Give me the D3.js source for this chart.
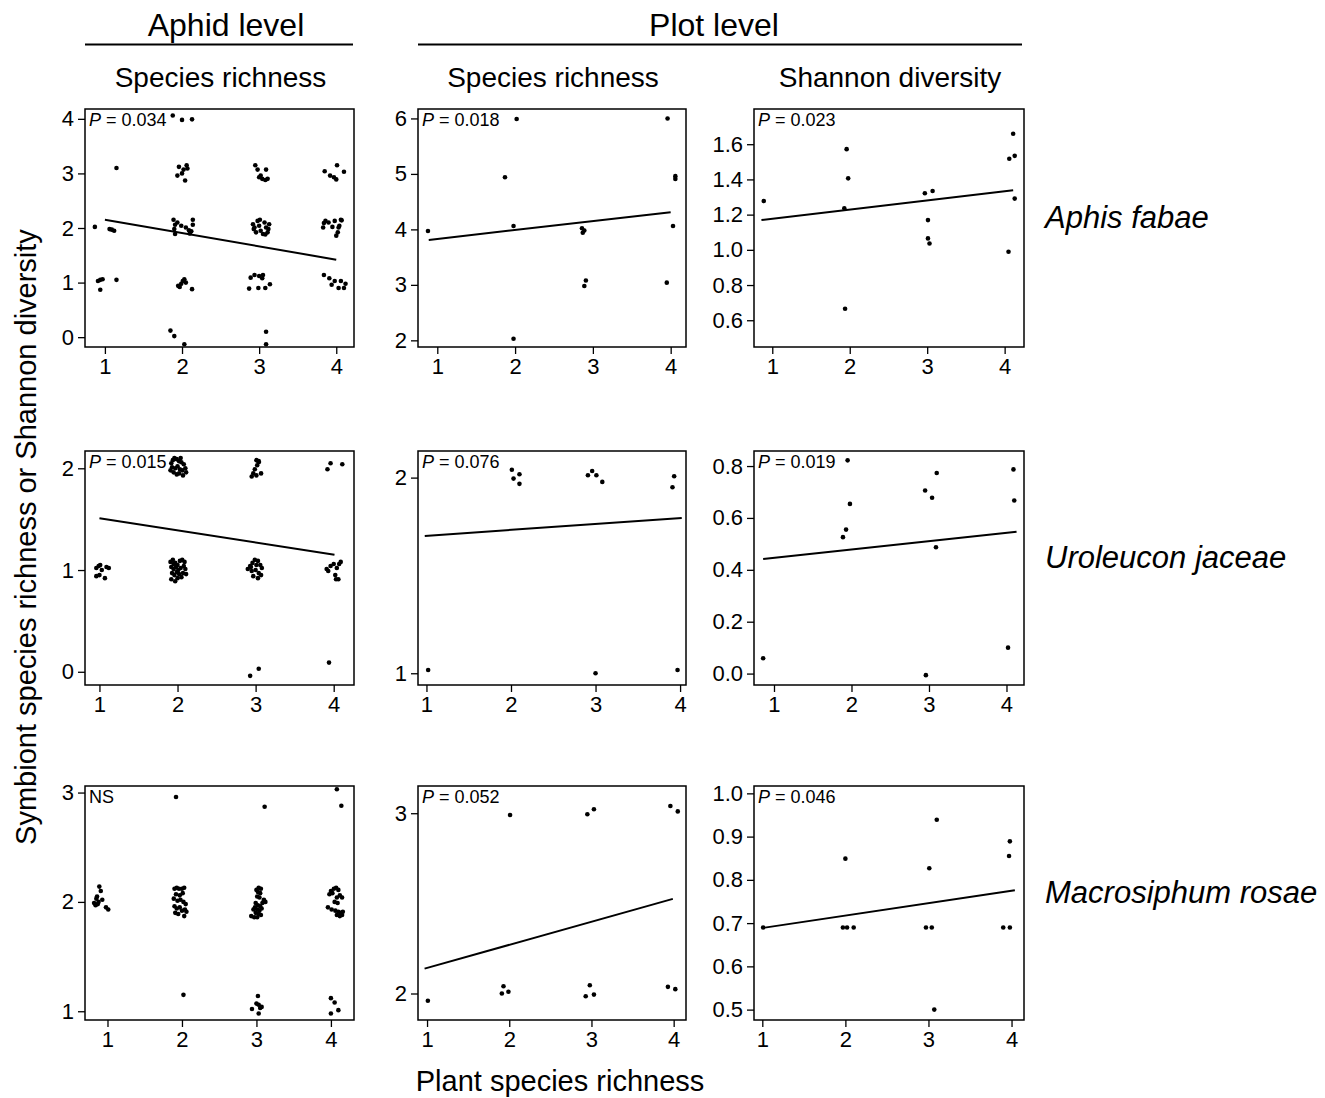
<!DOCTYPE html>
<html>
<head>
<meta charset="utf-8">
<script src="https://cdn.jsdelivr.net/npm/d3@7"></script>
<style>
  body { margin: 0; background: #fff; }
  text { font-family: "Liberation Sans", Arial, sans-serif; fill: #000; }
</style>
</head>
<body>
<svg id="chart" width="1325" height="1098"></svg>
<script>
// ---- data (x = plant species richness, jittered) ----
const fabaeAphid = [
  [0.87,2.02],[1.06,1.98],[1.09,1.97],[1.12,1.95],[1.15,3.10],[0.91,1.03],[0.94,1.05],[0.97,1.06],[0.94,0.87],[1.15,1.05],
  [1.88,4.06],[2.00,3.98],[2.13,3.99],
  [1.94,2.96],[1.96,3.12],[2.02,3.07],[2.06,3.15],[2.07,3.09],[2.04,2.87],[2.00,3.00],
  [1.89,2.15],[1.91,2.06],[1.94,2.10],[1.90,1.98],[1.91,1.89],[2.05,2.01],[2.09,1.96],[2.12,1.94],[2.14,2.15],[2.14,2.06],[2.10,1.90],[1.99,2.04],
  [1.95,0.94],[1.99,0.98],[2.01,1.03],[2.03,1.06],[2.05,1.00],[1.97,0.92],[2.13,0.88],
  [1.85,0.12],[1.90,0.02],[2.03,-0.13],
  [2.95,3.15],[2.98,3.07],[3.09,3.07],[3.00,2.93],[3.04,2.90],[3.08,2.88],[3.11,2.90],[3.02,2.96],
  [2.92,2.07],[2.94,2.01],[2.98,2.13],[3.00,2.04],[3.02,1.95],[3.05,1.89],[3.07,2.10],[3.09,2.01],[3.11,1.92],[3.13,2.07],[3.12,1.98],[2.96,1.92],[3.01,2.15],[3.08,1.88],[2.93,1.98],
  [2.89,1.09],[2.94,1.14],[3.00,1.12],[3.04,1.08],[3.05,1.14],[2.87,0.89],[2.99,0.90],[3.08,0.90],[3.14,0.97],
  [3.09,0.10],[3.09,-0.13],
  [3.85,3.04],[3.92,2.96],[3.97,2.93],[4.00,2.89],[4.01,3.15],[4.10,3.03],
  [3.83,2.01],[3.86,2.13],[3.90,2.10],[3.95,2.02],[3.98,2.13],[4.00,1.86],[4.02,1.92],[4.04,2.04],[4.06,2.15],[4.07,2.14],[4.03,2.01],[3.84,2.09],
  [3.84,1.14],[3.91,1.08],[3.94,0.96],[3.98,1.03],[4.03,0.90],[4.06,1.03],[4.10,0.90],[4.12,0.98]
];
const fabaePlotRich = [
  [0.88,3.97],[1.87,4.94],[1.98,4.06],[2.02,5.99],[1.98,2.03],[2.86,4.02],[2.89,3.98],[2.87,3.94],
  [2.89,2.98],[2.91,3.08],[3.96,6.00],[4.06,4.96],[4.06,4.91],[4.03,4.06],[3.95,3.04]
];
const fabaePlotShan = [
  [0.89,1.277],[1.96,1.572],[1.98,1.406],[1.93,1.236],[1.94,0.665],[2.97,1.321],[3.07,1.334],[3.01,1.169],
  [3.01,1.065],[3.03,1.036],[4.11,1.659],[4.06,1.517],[4.13,1.534],[4.13,1.291],[4.05,0.989]
];
const jaceaeAphid = [
  [0.96,1.02],[0.99,1.04],[1.01,1.05],[1.03,1.00],[1.00,0.95],[0.96,0.94],[1.07,0.92],[1.09,1.03],[1.12,1.02],
  [1.92,2.05],[1.94,2.08],[1.96,2.10],[1.99,2.09],[2.02,2.07],[2.05,2.06],[2.08,2.04],[1.93,2.01],[1.97,2.00],[2.00,2.02],
  [2.03,1.99],[2.06,1.98],[2.10,2.00],[1.95,1.96],[1.99,1.94],[2.02,1.95],[2.07,1.93],[2.11,1.96],[2.04,2.10],[1.91,1.98],
  [1.91,1.08],[1.94,1.10],[1.97,1.07],[2.00,1.05],[2.03,1.09],[2.06,1.10],[2.09,1.08],[1.92,1.03],[1.95,1.01],[1.98,1.03],
  [2.01,1.00],[2.04,1.02],[2.08,1.04],[1.93,0.97],[1.96,0.95],[1.99,0.98],[2.02,0.96],[2.05,0.93],[2.07,0.97],[1.92,0.91],
  [1.97,0.89],[2.00,0.92],[2.10,1.01],[2.11,0.96],[1.95,1.06],
  [3.01,2.08],[3.04,2.06],[3.02,2.03],[2.99,1.99],[2.97,1.95],[2.95,1.92],[3.01,1.93],[3.07,1.95],[3.04,2.07],
  [2.90,1.01],[2.93,1.04],[2.96,1.07],[2.99,1.10],[3.03,1.09],[3.06,1.05],[3.08,1.02],[2.95,0.99],[3.00,1.00],[3.04,0.97],
  [2.97,0.94],[3.03,0.92],[3.07,0.95],[2.94,1.03],[3.01,1.05],
  [2.93,-0.04],[3.04,0.03],
  [3.92,1.99],[3.96,2.05],[4.11,2.04],
  [3.91,1.01],[3.93,0.99],[3.96,1.04],[4.00,1.06],[4.04,1.02],[4.07,1.06],[4.09,1.08],[4.02,0.95],[4.03,0.91],[4.06,0.91],
  [3.94,0.09]
];
const jaceaePlotRich = [
  [1.02,1.017],[2.01,2.040],[2.03,1.995],[2.10,2.017],[2.10,1.968],[2.91,2.012],[2.96,2.034],
  [3.01,2.012],[3.08,1.978],[3.00,1.000],[3.93,2.007],[3.91,1.951],[3.97,1.017]
];
const jaceaePlotShan = [
  [0.86,0.059],[1.95,0.822],[1.98,0.654],[1.93,0.555],[1.89,0.526],[2.95,0.706],[3.10,0.773],
  [3.04,0.678],[3.09,0.487],[2.96,-0.006],[4.09,0.787],[4.10,0.667],[4.02,0.100]
];
const rosaeAphid = [
  [0.89,2.14],[0.91,2.10],[0.88,2.00],[0.84,1.97],[0.82,1.99],[0.93,2.02],[0.98,1.95],[1.01,1.93],[0.86,2.05],[0.87,1.98],[0.85,2.03],
  [1.92,2.96],[2.02,1.15],
  [1.90,2.12],[1.93,2.13],[1.96,2.12],[2.00,2.12],[2.03,2.13],[1.92,2.07],[1.97,2.06],[2.01,2.08],[1.89,2.03],[1.94,2.01],[1.98,2.02],
  [2.02,2.00],[2.05,1.98],[1.90,1.96],[1.93,1.94],[1.97,1.95],[2.00,1.92],[2.04,1.93],[1.91,1.90],[1.95,1.89],[2.03,1.87],[2.06,1.91],
  [3.11,2.87],
  [3.03,2.13],[3.06,2.12],[3.02,2.09],[3.05,2.08],[3.01,2.05],[3.04,2.04],[3.10,2.02],[3.12,2.00],[3.08,1.99],[2.99,1.99],[3.02,1.97],
  [3.05,1.96],[2.98,1.95],[3.01,1.93],[3.04,1.92],[3.07,1.94],[2.99,1.90],[3.03,1.89],[3.06,1.88],[2.93,1.87],[2.97,1.86],[3.01,1.86],
  [3.10,2.01],[2.96,1.93],[3.00,2.11],
  [2.94,1.02],[3.03,0.98],[3.02,1.14],[3.03,1.06],[3.07,1.04],[3.00,1.07],[3.05,1.03],
  [4.08,3.03],[4.14,2.88],
  [4.00,2.10],[4.04,2.12],[4.07,2.13],[4.10,2.11],[3.98,2.07],[4.02,2.08],[4.12,2.06],[4.08,2.04],[4.15,2.04],[4.05,2.00],
  [4.09,1.99],[3.96,1.95],[4.01,1.93],[4.06,1.92],[4.10,1.91],[4.13,1.90],[4.16,1.91],[4.08,1.88],[4.12,1.87],[4.15,1.88],
  [4.00,1.12],[4.05,1.08],[4.00,0.98],[4.10,1.01]
];
const rosaePlotRich = [
  [1.01,1.960],[1.91,2.000],[1.93,2.040],[1.99,2.010],[2.01,2.990],[2.93,1.985],[2.98,2.046],
  [3.03,1.994],[2.95,2.994],[3.03,3.022],[3.93,2.037],[4.02,2.024],[3.96,3.040],[4.05,3.010]
];
const rosaePlotShan = [
  [1.01,0.690],[1.97,0.690],[2.02,0.690],[2.10,0.690],[2.00,0.849],[2.97,0.690],[3.04,0.690],
  [3.01,0.827],[3.10,0.939],[3.07,0.500],[3.90,0.690],[3.98,0.690],[3.98,0.889],[3.97,0.855]
];

// fitted lines (start, end)
const fitLines = [
  [[1.00,2.15],[4.00,1.42]], [[0.89,3.81],[4.00,4.31]], [[0.86,1.169],[4.11,1.338]],
  [[1.00,1.51],[4.01,1.15]], [[0.98,1.702],[4.02,1.794]], [[0.86,0.442],[4.13,0.547]],
  null, [[0.97,2.138],[3.99,2.525]], [[1.01,0.689],[4.04,0.776]]
];
const pLabels = ["0.034","0.018","0.023","0.015","0.076","0.019",null,"0.052","0.046"];
const yTickValues = [
  [0,1,2,3,4], [2,3,4,5,6], [0.6,0.8,1.0,1.2,1.4,1.6],
  [0,1,2], [1,2], [0,0.2,0.4,0.6,0.8],
  [1,2,3], [2,3], [0.5,0.6,0.7,0.8,0.9,1.0]
];
const xTickValues = [1,2,3,4];
const species = ["Aphis fabae","Uroleucon jaceae","Macrosiphum rosae"];
const colHeads = ["Species richness","Species richness","Shannon diversity"];

const pointSets = [fabaeAphid, fabaePlotRich, fabaePlotShan, jaceaeAphid, jaceaePlotRich, jaceaePlotShan,
                   rosaeAphid, rosaePlotRich, rosaePlotShan];

// axis ranges per panel
const xDomains = [[0.742,4.23],[0.752,4.197],[0.764,4.25],[0.815,4.26],[0.90,4.07],[0.742,4.226],[0.698,4.31],[0.89,4.15],[0.90,4.15]];
const yDomains = [[-0.18,4.18],[1.88,6.17],[0.448,1.80],[-0.13,2.17],[0.94,2.136],[-0.044,0.858],[0.92,3.06],[1.853,3.151],[0.476,1.017]];

const colL = [85, 418, 754], colR = [354, 686, 1024];
const rowT = [109, 451, 786], rowB = [347, 685, 1020];

const svg = d3.select("#chart");

// headers
svg.append("text").attr("x", 226).attr("y", 36).attr("text-anchor", "middle").attr("font-size", 32).text("Aphid level");
svg.append("text").attr("x", 714).attr("y", 36).attr("text-anchor", "middle").attr("font-size", 32).text("Plot level");
svg.append("line").attr("x1", 85).attr("x2", 353).attr("y1", 44.5).attr("y2", 44.5).attr("stroke", "#000").attr("stroke-width", 2);
svg.append("line").attr("x1", 418).attr("x2", 1022).attr("y1", 44.5).attr("y2", 44.5).attr("stroke", "#000").attr("stroke-width", 2);
colHeads.forEach((h, c) => {
  svg.append("text").attr("x", (colL[c] + colR[c]) / 2 + 1).attr("y", 87)
    .attr("text-anchor", "middle").attr("font-size", 28).text(h);
});
species.forEach((s, r) => {
  svg.append("text").attr("x", 1045).attr("y", (rowT[r] + rowB[r]) / 2 + 0)
    .attr("font-size", 31).attr("font-style", "italic").text(s);
});
svg.append("text").attr("transform", "translate(36,537) rotate(-90)")
  .attr("text-anchor", "middle").attr("font-size", 29)
  .text("Symbiont species richness or Shannon diversity");
svg.append("text").attr("x", 560).attr("y", 1091).attr("text-anchor", "middle")
  .attr("font-size", 29).text("Plant species richness");

pointSets.forEach((pts, i) => {
  const r = Math.floor(i / 3), c = i % 3;
  const x = d3.scaleLinear().domain(xDomains[i]).range([colL[c], colR[c]]);
  const y = d3.scaleLinear().domain(yDomains[i]).range([rowB[r], rowT[r]]);
  const g = svg.append("g");

  const xa = g.append("g").attr("transform", `translate(0,${rowB[r]})`)
    .call(d3.axisBottom(x).tickValues(xTickValues).tickSize(7).tickPadding(4).tickFormat(d3.format("d")));
  const fmt = yTickValues[i].some(v => v % 1 !== 0) ? d3.format(".1f") : d3.format("d");
  const ya = g.append("g").attr("transform", `translate(${colL[c]},0)`)
    .call(d3.axisLeft(y).tickValues(yTickValues[i]).tickSize(7).tickPadding(4).tickFormat(fmt));
  [xa, ya].forEach(a => {
    a.select(".domain").remove();
    a.selectAll("line").attr("stroke", "#000").attr("stroke-width", 1.3);
    a.selectAll("text").attr("font-size", 22).attr("font-family", "Liberation Sans, Arial, sans-serif").attr("fill", "#000");
  });

  g.append("rect").attr("x", colL[c]).attr("y", rowT[r])
    .attr("width", colR[c] - colL[c]).attr("height", rowB[r] - rowT[r])
    .attr("fill", "none").attr("stroke", "#000").attr("stroke-width", 1.5);

  g.selectAll("circle.pt").data(pts).join("circle").attr("class", "pt")
    .attr("cx", d => x(d[0])).attr("cy", d => y(d[1])).attr("r", 2.3).attr("fill", "#000");

  if (fitLines[i]) {
    g.append("path").datum(fitLines[i])
      .attr("d", d3.line().x(d => x(d[0])).y(d => y(d[1])))
      .attr("stroke", "#000").attr("stroke-width", 2).attr("fill", "none");
  }

  const lab = g.append("text").attr("x", colL[c] + 4).attr("y", rowT[r] + 17).attr("font-size", 18);
  if (pLabels[i]) {
    lab.append("tspan").attr("font-style", "italic").text("P");
    lab.append("tspan").text(" = " + pLabels[i]);
  } else {
    lab.text("NS");
  }
});
</script>
</body>
</html>
